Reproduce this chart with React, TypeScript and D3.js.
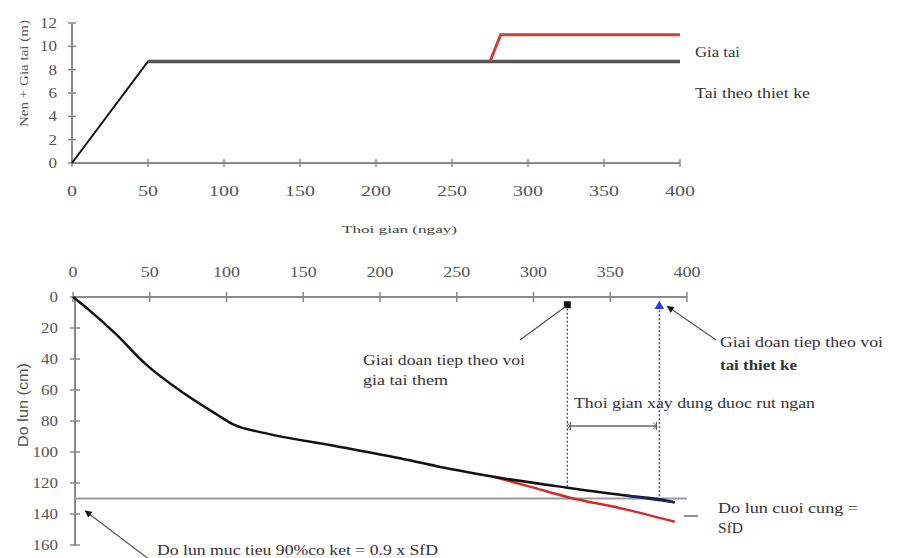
import React from "react";
import * as d3 from "d3";

// Upper panel: fill height (m) over time (days)
const daysTicks = [0, 50, 100, 150, 200, 250, 300, 350, 400];
const heightTicks = [0, 2, 4, 6, 8, 10, 12];
const designDays = [0, 50, 400];
const designHeight = [0, 8.7, 8.7];
const surchargeDays = [275, 282, 400];
const surchargeHeight = [8.7, 11, 11];

// Lower panel: settlement (cm) over time (days)
const settleTicks = [0, 20, 40, 60, 80, 100, 120, 140, 160];
const settleDays = [0, 10, 28, 47, 72, 94, 104, 126, 170, 213, 246, 274, 322, 360, 382, 392];
const settleDesign = [0, 8, 24, 43, 62, 76, 82, 88, 96, 104, 111, 116, 123, 128, 130.5, 132.5];
const tailDays = [360, 392];
const tailDesign = [128, 132.5];
const surchargeSettleDays = [274, 300, 322, 360, 392];
const surchargeSettle = [116, 123, 129, 137, 145];
const targetSettle = 130;
const surchargeStop = [322, 5];
const designStop = [382, 6];

const FONT = "'Liberation Serif', 'DejaVu Serif', serif";
const AXIS = "#8a8a8a";
const TXT = "#333";

function zip(xs: number[], ys: number[]): [number, number][] {
  return xs.map((x, i) => [x, ys[i]]);
}

// text stretched to a given width
function T(props: { x: number; y: number; w: number; size?: number; bold?: boolean; fill?: string; children: React.ReactNode }) {
  return (
    <text
      x={props.x}
      y={props.y}
      fontSize={props.size ?? 14}
      fontWeight={props.bold ? "bold" : "normal"}
      fill={props.fill}
      textLength={props.w}
      lengthAdjust="spacingAndGlyphs"
    >
      {props.children}
    </text>
  );
}

export default function App() {
  // scales
  const xTop = d3.scaleLinear().domain([0, 400]).range([72, 680]);
  const yTop = d3.scaleLinear().domain([0, 12]).range([163, 23]);
  const xBot = d3.scaleLinear().domain([0, 400]).range([73, 687]);
  const yBot = d3.scaleLinear().domain([0, 160]).range([297, 545]);

  const lineTop = d3.line<[number, number]>().x((d) => xTop(d[0])).y((d) => yTop(d[1]));
  const lineBot = d3
    .line<[number, number]>()
    .x((d) => xBot(d[0]))
    .y((d) => yBot(d[1]))
    .curve(d3.curveMonotoneX);

  const sqX = xBot(surchargeStop[0]);
  const sqY = yBot(surchargeStop[1]);
  const trX = xBot(designStop[0]);
  const trY = yBot(designStop[1]);
  const arrowY = 426;

  const digitW = (t: number) => String(t).length * 8.5;

  return (
    <svg width={897} height={558} style={{ position: "absolute", left: 0, top: 0, display: "block", background: "#fff" }}>
      <defs>
        <marker id="ah" viewBox="0 0 10 10" refX="9" refY="5" markerWidth="6" markerHeight="6" orient="auto-start-reverse">
          <path d="M0,0 L10,5 L0,10 z" fill="#111" />
        </marker>
        <marker id="bar" viewBox="0 0 10 10" refX="5" refY="5" markerWidth="6" markerHeight="8" orient="auto">
          <path d="M5,0 L5,10" stroke="#555" strokeWidth="1.5" />
          <path d="M1,1 L5,5 L1,9" stroke="#555" strokeWidth="1.2" fill="none" />
        </marker>
      </defs>

      {/* ---------- upper panel ---------- */}
      <g fontFamily={FONT} fill={TXT}>
        <line x1={xTop(0)} x2={xTop(0)} y1={yTop(12)} y2={yTop(0)} stroke={AXIS} strokeWidth={2} />
        <line x1={xTop(0)} x2={xTop(400)} y1={yTop(0)} y2={yTop(0)} stroke={AXIS} strokeWidth={2} />
        {heightTicks.map((t) => (
          <g key={"hy" + t}>
            <line x1={xTop(0) - 4} x2={xTop(0) + 4} y1={yTop(t)} y2={yTop(t)} stroke={AXIS} strokeWidth={1.5} />
            <text x={xTop(0) - 15} y={yTop(t) + 5} fontSize={15} fill="#555" textAnchor="end" textLength={digitW(t)} lengthAdjust="spacingAndGlyphs">{t}</text>
          </g>
        ))}
        {daysTicks.map((t) => (
          <g key={"hx" + t}>
            <line x1={xTop(t)} x2={xTop(t)} y1={yTop(0) - 4} y2={yTop(0) + 4} stroke={AXIS} strokeWidth={1.5} />
            <text x={xTop(t)} y={196} fontSize={15} fill="#555" textAnchor="middle" textLength={String(t).length * 10} lengthAdjust="spacingAndGlyphs">{t}</text>
          </g>
        ))}
        <T x={342} y={233} w={115} size={11} fill="#444">Thoi gian (ngay)</T>
        <g transform={`translate(28,127) rotate(-90)`}>
          <T x={0} y={0} w={107} size={12} fill="#555">Nen + Gia tai (m)</T>
        </g>

        <path d={lineTop(zip(designDays, designHeight)) || ""} fill="none" stroke="#111" strokeWidth={2} />
        <path d={lineTop(zip(designDays.slice(1), designHeight.slice(1))) || ""} fill="none" stroke="#555" strokeWidth={3.5} />
        <path d={lineTop(zip(surchargeDays, surchargeHeight)) || ""} fill="none" stroke="#c8403f" strokeWidth={3} />

        <T x={695} y={57} w={45}>Gia tai</T>
        <T x={695} y={98} w={115}>Tai theo thiet ke</T>
      </g>

      {/* ---------- lower panel ---------- */}
      <g fontFamily={FONT} fill={TXT}>
        <line x1={xBot(0)} x2={xBot(400)} y1={yBot(0)} y2={yBot(0)} stroke={AXIS} strokeWidth={2} />
        <line x1={xBot(0) + 2} x2={xBot(0) + 2} y1={yBot(0)} y2={yBot(160)} stroke={AXIS} strokeWidth={2} />
        {daysTicks.map((t) => (
          <g key={"sx" + t}>
            <line x1={xBot(t)} x2={xBot(t)} y1={yBot(0) - 5} y2={yBot(0) + 5} stroke={AXIS} strokeWidth={1.5} />
            <text x={xBot(t)} y={277} fontSize={14} fill="#555" textAnchor="middle" textLength={String(t).length * 9} lengthAdjust="spacingAndGlyphs">{t}</text>
          </g>
        ))}
        {settleTicks.map((t) => (
          <g key={"sy" + t}>
            <line x1={xBot(0) - 3} x2={xBot(0) + 7} y1={yBot(t)} y2={yBot(t)} stroke={AXIS} strokeWidth={1.5} />
            <text x={58} y={yBot(t) + 5} fontSize={14} fill="#555" textAnchor="end" textLength={String(t).length * 8.5} lengthAdjust="spacingAndGlyphs">{t}</text>
          </g>
        ))}
        <g transform={`translate(28,447) rotate(-90)`}>
          <text x={0} y={0} fontSize={15} fontFamily="'Liberation Sans', Arial, sans-serif" fill="#555" textLength={84} lengthAdjust="spacingAndGlyphs">Do lun (cm)</text>
        </g>

        {/* target settlement */}
        <line x1={xBot(0) + 2} x2={xBot(400)} y1={yBot(targetSettle)} y2={yBot(targetSettle)} stroke="#9a9aa6" strokeWidth={2} />

        {/* settlement curves */}
        <path d={lineBot(zip(surchargeSettleDays, surchargeSettle)) || ""} fill="none" stroke="#d42a2a" strokeWidth={2.5} />
        <path d={lineBot(zip(settleDays, settleDesign)) || ""} fill="none" stroke="#111" strokeWidth={2.5} />
        <path d={lineBot(zip(tailDays, tailDesign)) || ""} fill="none" stroke="#1c2466" strokeWidth={2.5} />

        {/* vertical guides from stop markers */}
        <line x1={sqX} x2={sqX} y1={sqY} y2={yBot(123)} stroke="#4a55b0" strokeWidth={1.5} strokeDasharray="2,2" />
        <line x1={trX} x2={trX} y1={trY} y2={yBot(130)} stroke="#4a55b0" strokeWidth={1.5} strokeDasharray="2,2" />
        <rect x={sqX - 3.5} y={sqY - 3.5} width={7} height={7} fill="#111" />
        <path d={d3.symbol().type(d3.symbolTriangle).size(40)() || ""} transform={`translate(${trX},${trY})`} fill="#2b3fd6" />

        {/* shortened construction time */}
        <line x1={sqX + 3} x2={trX - 3} y1={arrowY} y2={arrowY} stroke="#666" strokeWidth={1.3} markerStart="url(#bar)" markerEnd="url(#bar)" />
        <T x={574} y={408} w={241}>Thoi gian  xay dung duoc rut ngan</T>

        {/* annotations */}
        <line x1={520} y1={340} x2={sqX - 2} y2={sqY + 2} stroke="#555" strokeWidth={1.2} />
        <T x={363} y={365} w={162}>Giai doan tiep theo voi</T>
        <T x={363} y={385} w={85}>gia tai them</T>

        <line x1={716} y1={340} x2={trX + 8} y2={trY} stroke="#555" strokeWidth={1.2} markerEnd="url(#ah)" />
        <T x={720} y={347} w={163}>Giai doan tiep theo voi</T>
        <T x={720} y={370} w={77} bold>tai thiet ke</T>

        <line x1={684} y1={516} x2={698} y2={516} stroke="#444" strokeWidth={1.2} />
        <T x={718} y={513} w={140}>Do lun cuoi cung =</T>
        <T x={718} y={533} w={25}>SfD</T>

        <line x1={150} y1={560} x2={xBot(8)} y2={yBot(138)} stroke="#555" strokeWidth={1.2} markerEnd="url(#ah)" />
        <T x={157} y={555} w={281}>Do lun muc tieu 90%co ket = 0.9 x SfD</T>
      </g>
    </svg>
  );
}
